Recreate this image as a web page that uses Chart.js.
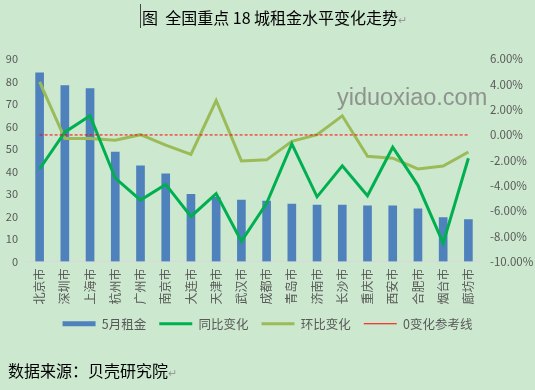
<!DOCTYPE html>
<html>
<head>
<meta charset="utf-8">
<script src="https://cdn.jsdelivr.net/npm/chart.js@4"></script>
<style>
  html, body { margin: 0; padding: 0; background: #CCE8CF; }
  #wrap { position: relative; width: 535px; height: 390px; overflow: hidden; }
  #chart { position: absolute; left: 0; top: 0; }
  .txt { position: absolute; font-family: "Noto Sans CJK SC", sans-serif; color: #000; white-space: nowrap; }
  .ret { color: #999; font-size: 11px; }
  #title { left: 142px; top: 5px; font-size: 16px; }
  #cursor { position: absolute; left: 140px; top: 4px; width: 1px; height: 24px; background: #444; }
  #source { left: 8px; top: 358px; font-size: 16px; }
  #mark { position: absolute; left: 337px; top: 84px; font-family: "Liberation Sans", Arial, sans-serif; font-size: 23.5px; color: rgba(120,120,120,0.75); }
</style>
</head>
<body>
<div id="wrap">
  <canvas id="chart" width="535" height="390"></canvas>
  <div id="cursor"></div>
  <div class="txt" id="title">图&nbsp;&nbsp;全国重点 18 城租金水平变化走势<span class="ret">↵</span></div>
  <div class="txt" id="source">数据来源：贝壳研究院<span class="ret">↵</span></div>
  <div id="mark">yiduoxiao.com</div>
</div>
<script>
// 18 cities, May rent level and changes
const cities = ['北京市', '深圳市', '上海市', '杭州市', '广州市', '南京市', '大连市', '天津市', '武汉市',
    '成都市', '青岛市', '济南市', '长沙市', '重庆市', '西安市', '合肥市', '烟台市', '廊坊市'];
const rentMay = [83.9, 78.2, 76.9, 48.6, 42.5, 39.0, 29.9, 28.5, 27.3, 26.8, 25.5, 25.1, 25.1, 24.7, 24.7, 23.4, 19.5, 18.6];
const yoyChange = [-2.69, 0.22, 1.51, -3.42, -5.15, -3.91, -6.44, -4.63, -8.4, -5.4, -0.71, -4.89, -2.44, -4.81, -0.97, -3.98, -8.55, -1.84];
const momChange = [4.2, -0.29, -0.29, -0.42, 0.02, -0.81, -1.53, 2.72, -2.05, -1.97, -0.5, 0.02, 1.51, -1.69, -1.84, -2.69, -2.46, -1.35];
const zeroRef = cities.map(() => 0);
const leftTicks = [0, 10, 20, 30, 40, 50, 60, 70, 80, 90];
const rightTicks = [6, 4, 2, 0, -2, -4, -6, -8, -10];

const cjk = '"Noto Sans CJK SC", sans-serif';
const tickColor = '#595959';

new Chart(document.getElementById('chart'), {
    data: {
        labels: cities,
        datasets: [
            { type: 'bar', label: '5月租金', data: rentMay, backgroundColor: '#4F81BD', barThickness: 8, yAxisID: 'y', order: 4 },
            { type: 'line', label: '同比变化', data: yoyChange, borderColor: '#00B050', backgroundColor: '#00B050',
              borderWidth: 3, pointRadius: 0, tension: 0, yAxisID: 'y2', order: 2 },
            { type: 'line', label: '环比变化', data: momChange, borderColor: '#9BBB59', backgroundColor: '#9BBB59',
              borderWidth: 3, pointRadius: 0, tension: 0, yAxisID: 'y2', order: 3 },
            { type: 'line', label: '0变化参考线', data: zeroRef, borderColor: '#FF0000', backgroundColor: '#FF0000',
              borderWidth: 1, borderDash: [3, 2], pointRadius: 0, yAxisID: 'y2', order: 1 }
        ]
    },
    options: {
        responsive: false,
        animation: false,
        layout: { padding: { top: 59, bottom: 50, left: 0, right: 0 } },
        plugins: {
            tooltip: { enabled: false },
            legend: {
                position: 'bottom',
                padding: 4,
                labels: {
                    font: { family: cjk, size: 12.5 },
                    color: tickColor,
                    usePointStyle: true,
                    pointStyleWidth: 33,
                    boxHeight: 5,
                    padding: 13,
                    generateLabels(chart) {
                        const items = Chart.defaults.plugins.legend.labels.generateLabels(chart);
                        items.sort((a, b) => a.datasetIndex - b.datasetIndex);
                        items.forEach(it => {
                            it.pointStyle = it.datasetIndex === 0 ? 'rect' : 'line';
                            if (it.datasetIndex === 0) it.lineWidth = 0;
                        });
                        return items;
                    }
                }
            }
        },
        scales: {
            x: {
                offset: true,
                grid: { display: false, drawTicks: false },
                border: { color: '#D9D9D9', width: 1 },
                ticks: { font: { family: cjk, size: 12 }, color: tickColor, minRotation: 90, maxRotation: 90, padding: 7 },
                afterFit(scale) { scale.height = 43; }
            },
            y: {
                position: 'left',
                min: 0, max: 90,
                grid: { display: false, drawTicks: false },
                border: { display: false },
                afterBuildTicks(scale) { scale.ticks = leftTicks.map(v => ({ value: v })); },
                ticks: { font: { family: cjk, size: 11 }, color: tickColor, padding: 9 },
                afterFit(scale) { scale.width = 27; }
            },
            y2: {
                position: 'right',
                min: -10, max: 6,
                grid: { display: false, drawTicks: false },
                border: { display: false },
                afterBuildTicks(scale) { scale.ticks = rightTicks.map(v => ({ value: v })); },
                ticks: { font: { family: cjk, size: 11.5 }, color: tickColor, padding: 9,
                    callback: v => v.toFixed(2) + '%' },
                afterFit(scale) { scale.width = 54; }
            }
        }
    }
});
</script>
</body>
</html>
